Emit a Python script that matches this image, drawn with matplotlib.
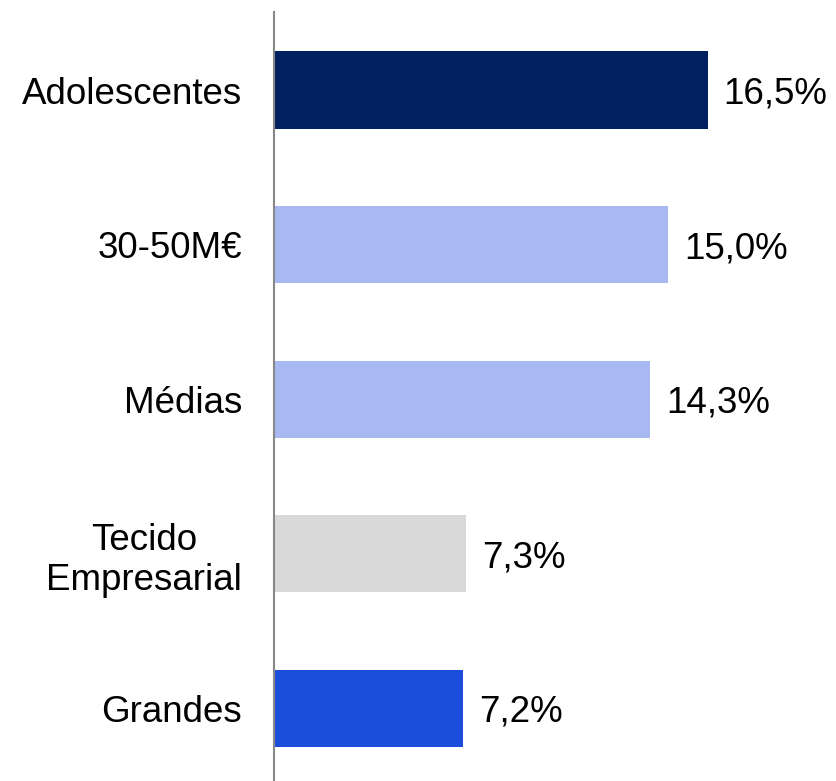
import matplotlib.pyplot as plt

plt.rcParams["font.family"] = ["Liberation Sans", "DejaVu Sans"]

# dados
categorias = ["Adolescentes", "30-50M€", "Médias", "Tecido\nEmpresarial", "Grandes"]
valores = [16.5, 15.0, 14.3, 7.3, 7.2]
rotulos = ["16,5%", "15,0%", "14,3%", "7,3%", "7,2%"]
cores = ["#002060", "#A8B8F1", "#A8B8F1", "#D9D9D9", "#1D4EDB"]

fig = plt.figure(figsize=(8.36, 7.81), dpi=100)
ax = fig.add_axes([274 / 836, 0, 1 - 274 / 836, 769 / 781])

pos = list(range(len(categorias)))
ax.barh(pos, valores, height=0.5, color=cores)

for p, v, r in zip(pos, valores, rotulos):
    ax.text(v + 0.6, p, r, va="center_baseline", ha="left", fontsize=26.5)

ax.set_yticks(pos)
ax.set_yticklabels(categorias, fontsize=26.5, multialignment="center")
ax.tick_params(axis="y", length=0, pad=23)
ax.set_xticks([])
ax.set_xlim(0, 21.37)
ax.set_ylim(4.47, -0.505)

for s in ["top", "right", "bottom"]:
    ax.spines[s].set_visible(False)
ax.spines["left"].set_color("#888888")
ax.spines["left"].set_linewidth(1.5)

plt.savefig("out.png", dpi=100)
plt.close()
